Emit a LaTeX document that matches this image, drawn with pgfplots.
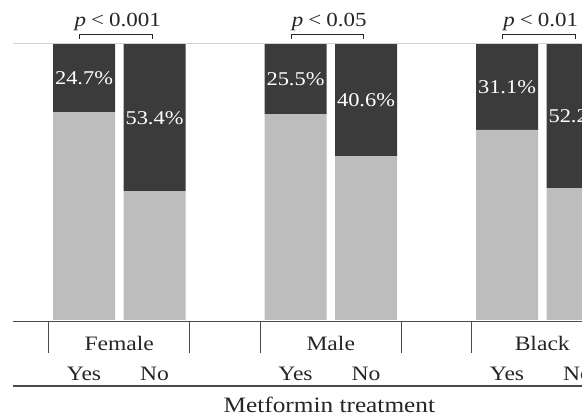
\documentclass[border=0pt]{standalone}
\usepackage{pgfplots}
\pgfplotsset{compat=1.18}
\usepackage{fontspec}
\setmainfont{Liberation Serif}[FakeStretch=1.15]
\definecolor{lightbar}{HTML}{BDBDBD}
\definecolor{darkbar}{HTML}{3B3B3B}
\definecolor{axisgray}{HTML}{4A4A4A}
\definecolor{topline}{HTML}{D2D2D2}
\definecolor{txt}{HTML}{262626}
\tikzset{
  pct/.style={white, font=\fontsize{19.5bp}{22bp}\selectfont, anchor=center},
  lab/.style={txt, font=\fontsize{20.5bp}{24bp}\selectfont, anchor=base},
  pv/.style={txt, font=\fontsize{20bp}{22bp}\selectfont, anchor=base},
  br/.style={txt, line width=1pt},
  tk/.style={axisgray, line width=1.2pt},
}
\pgfplotsset{
  frame/.style={
    scale only axis, width=582bp, height=416bp,
    xmin=-1.19149, xmax=7.06383, ymin=-34.783, ymax=115.942,
    axis lines=none, ticks=none, enlargelimits=false,
    clip mode=individual, at={(0,0)}, anchor=south west,
  }
}
\begin{document}
\begin{tikzpicture}
\begin{axis}[frame, ybar stacked, bar width=62bp]
\draw[topline, line width=1pt] (axis cs:-1.007,100) -- (axis cs:7.1,100);
\addplot[fill=lightbar, draw=none] coordinates {(0,75.3) (1,46.6) (3,74.5) (4,59.4) (6,68.9) (7,47.8)};
\addplot[fill=darkbar, draw=none] coordinates {(0,24.7) (1,53.4) (3,25.5) (4,40.6) (6,31.1) (7,52.2)};
% axis lines
\draw[axisgray, line width=1.6pt] (axis cs:-1.007,-0.55) -- (axis cs:7.1,-0.55);
\draw[axisgray, line width=1.6pt] (axis cs:-1.007,-23.9) -- (axis cs:7.1,-23.9);
\draw[tk] (axis cs:-0.5,-0.55) -- (axis cs:-0.5,-11.96);
\draw[tk] (axis cs:1.5,-0.55) -- (axis cs:1.5,-11.96);
\draw[tk] (axis cs:2.5,-0.55) -- (axis cs:2.5,-11.96);
\draw[tk] (axis cs:4.5,-0.55) -- (axis cs:4.5,-11.96);
\draw[tk] (axis cs:5.5,-0.55) -- (axis cs:5.5,-11.96);
% group labels
\node[lab] at (axis cs:0.5,-11.23) {Female};
\node[lab] at (axis cs:3.5,-11.23) {Male};
\node[lab] at (axis cs:6.5,-11.23) {Black};
\node[lab] at (axis cs:0,-21.74) {Yes};
\node[lab] at (axis cs:1,-21.74) {No};
\node[lab] at (axis cs:3,-21.74) {Yes};
\node[lab] at (axis cs:4,-21.74) {No};
\node[lab] at (axis cs:6,-21.74) {Yes};
\node[lab] at (axis cs:7,-21.74) {No};
\node[lab, font=\fontsize{22bp}{24bp}\selectfont] at (axis cs:3.48,-33.6) {Metformin treatment};
% p-values and brackets
\draw[br] (axis cs:-0.06,101.8) -- (axis cs:-0.06,103.6) -- (axis cs:0.97,103.6) -- (axis cs:0.97,101.8);
\draw[br] (axis cs:2.94,101.8) -- (axis cs:2.94,103.6) -- (axis cs:3.97,103.6) -- (axis cs:3.97,101.8);
\draw[br] (axis cs:5.94,101.8) -- (axis cs:5.94,103.6) -- (axis cs:6.97,103.6) -- (axis cs:6.97,101.8);
\node[pv] at (axis cs:0.48,106.16) {\textit{p}\kern0.25em<\kern0.25em0.001};
\node[pv] at (axis cs:3.48,106.16) {\textit{p}\kern0.25em<\kern0.25em0.05};
\node[pv] at (axis cs:6.48,106.16) {\textit{p}\kern0.25em<\kern0.25em0.01};
\end{axis}
% overlay axis for the percentage labels (centre of each dark segment)
\begin{axis}[frame]
\node[pct] at (axis cs:0,87.65) {24.7\%};
\node[pct] at (axis cs:1,73.3) {53.4\%};
\node[pct] at (axis cs:3,87.25) {25.5\%};
\node[pct] at (axis cs:4,79.7) {40.6\%};
\node[pct] at (axis cs:6,84.45) {31.1\%};
\node[pct] at (axis cs:7,73.9) {52.2\%};
\end{axis}
\pgfresetboundingbox
\path[use as bounding box] (0,0) rectangle (582bp,416bp);
\end{tikzpicture}
\end{document}
